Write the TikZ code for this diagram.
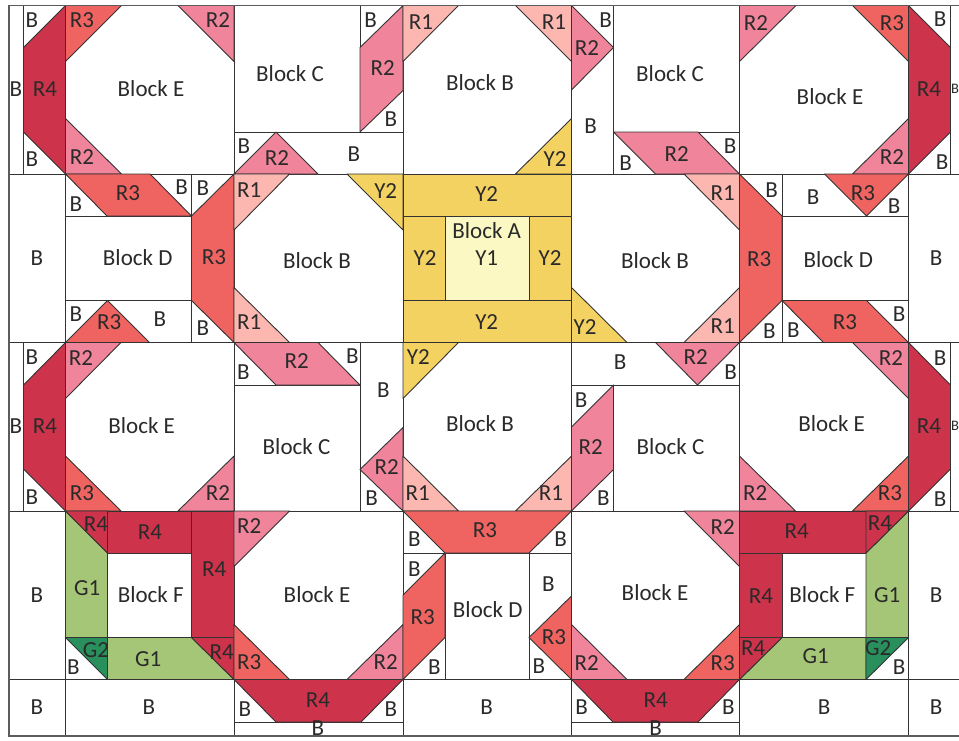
\documentclass[tikz,border=0pt]{standalone}
\usepackage{fontspec}
\setmainfont{Carlito}
\definecolor{cR4}{HTML}{CD334A}
\definecolor{cR3}{HTML}{EF6461}
\definecolor{cR2}{HTML}{F0849B}
\definecolor{cR1}{HTML}{FBB7B0}
\definecolor{cYa}{HTML}{F3D262}
\definecolor{cYb}{HTML}{FBF8C4}
\definecolor{cGa}{HTML}{A6C677}
\definecolor{cGb}{HTML}{288F5D}
\definecolor{ink}{HTML}{333333}
\definecolor{txt}{HTML}{2A2A2A}
\tikzset{
  patch/.style={draw=ink,line width=0.9pt,line join=round},
  rfour/.style={patch,fill=cR4},
  rthree/.style={patch,fill=cR3},
  rtwo/.style={patch,fill=cR2},
  rone/.style={patch,fill=cR1},
  yfive/.style={patch,fill=cYa},
  yone/.style={patch,fill=cYb},
  gone/.style={patch,fill=cGa},
  gtwo/.style={patch,fill=cGb},
  seam/.style={draw=ink,line width=0.9pt},
  frame/.style={draw=ink!80,line width=1.3pt},
  lab/.style={inner sep=0pt,text=txt,font=\fontsize{23}{23}\selectfont,anchor=center},
  labsmall/.style={lab,font=\fontsize{14.5}{15}\selectfont}
}
\begin{document}
\begin{tikzpicture}[x=1pt,y=-1pt]
\useasboundingbox (0,0) rectangle (959,740);
\clip (0,0) rectangle (959,740);
\fill[white] (0,0) rectangle (959,740);
% seams
\foreach \xa in {65.5,234,403,571.5,739.5,908.5} \draw[seam] (\xa,5.5) -- (\xa,736);
\foreach \ya in {174,342.5,511,679.5} \draw[seam] (9,\ya) -- (959,\ya);
\foreach \xa/\ya/\xb/\yb in {
 23.5/5.5/23.5/174, 950.5/5.5/950.5/174, 23.5/342.5/23.5/511, 950.5/342.5/950.5/511,
 360/5.5/360/132, 234/132/403/132, 613.5/5.5/613.5/174, 613.5/132/739.5/132,
 65.5/216/191.5/216, 65.5/300.5/191.5/300.5, 191.5/174/191.5/342.5,
 782/174/782/342.5, 782/216/908.5/216, 782/300.5/908.5/300.5,
 234/385/360/385, 360/342.5/360/511, 571.5/385/739.5/385, 613.5/385/613.5/511,
 403/553/571.5/553, 445/553/445/679.5, 529/553/529/679.5,
 234/722/403/722, 571.5/722/739.5/722}
  \draw[seam] (\xa,\ya) -- (\xb,\yb);
% row 1
\draw[rfour] (65.5,5.5)--(65.5,174)--(23.5,132)--(23.5,47.5)--cycle;
\draw[rthree] (65.5,5.5)--(121.5,5.5)--(65.5,61.5)--cycle;
\draw[rtwo] (178,5.5)--(234,5.5)--(234,61.5)--cycle;
\draw[rtwo] (65.5,118.5)--(121.5,174)--(65.5,174)--cycle;
\draw[rtwo] (403,5.5)--(403,90.5)--(360,132)--(360,47.5)--cycle;
\draw[rtwo] (234,174)--(276,132)--(318,174)--cycle;
\draw[rone] (403,5.5)--(458.5,5.5)--(403,61.5)--cycle;
\draw[rone] (515.5,5.5)--(571.5,5.5)--(571.5,61.5)--cycle;
\draw[yfive] (515.5,174)--(571.5,174)--(571.5,118.5)--cycle;
\draw[rtwo] (571.5,5.5)--(613.5,47.5)--(571.5,90)--cycle;
\draw[rtwo] (613.5,132)--(698,132)--(739.5,174)--(655.5,174)--cycle;
\draw[rtwo] (739.5,5.5)--(796,5.5)--(739.5,61.5)--cycle;
\draw[rthree] (852.5,5.5)--(908.5,5.5)--(908.5,61.5)--cycle;
\draw[rtwo] (852.5,174)--(908.5,174)--(908.5,118.5)--cycle;
\draw[rfour] (908.5,5.5)--(950.5,47.5)--(950.5,132)--(908.5,174)--cycle;
% row 2
\draw[rthree] (65.5,174)--(150,174)--(191.5,216)--(107,216)--cycle;
\draw[rthree] (234,174)--(234,342.5)--(191.5,300.5)--(191.5,216)--cycle;
\draw[rthree] (65.5,342.5)--(107.5,300.5)--(149.5,342.5)--cycle;
\draw[rone] (234,174)--(289.5,174)--(234,230)--cycle;
\draw[yfive] (347,174)--(403,174)--(403,230)--cycle;
\draw[rone] (234,287.5)--(289.5,342.5)--(234,342.5)--cycle;
\draw[yfive] (403,174) rectangle (571.5,216);
\draw[yfive] (403,216) rectangle (445,300.5);
\draw[yone] (445,216) rectangle (529,300.5);
\draw[yfive] (529,216) rectangle (571.5,300.5);
\draw[yfive] (403,300.5) rectangle (571.5,342.5);
\draw[yfive] (571.5,287.5)--(627,342.5)--(571.5,342.5)--cycle;
\draw[rone] (684,174)--(739.5,174)--(739.5,230)--cycle;
\draw[rone] (684,342.5)--(739.5,342.5)--(739.5,287.5)--cycle;
\draw[rthree] (739.5,174)--(782,216)--(782,300.5)--(739.5,342.5)--cycle;
\draw[rthree] (824.5,174)--(908.5,174)--(866.5,216)--cycle;
\draw[rthree] (782,300.5)--(866.5,300.5)--(908.5,342.5)--(823.5,342.5)--cycle;
% row 3
\draw[rfour] (65.5,342.5)--(65.5,511)--(23.5,469)--(23.5,385)--cycle;
\draw[rtwo] (65.5,342.5)--(121,342.5)--(65.5,398.5)--cycle;
\draw[rthree] (65.5,456)--(121,511)--(65.5,511)--cycle;
\draw[rtwo] (178,511)--(234,511)--(234,456)--cycle;
\draw[rtwo] (234,342.5)--(318,342.5)--(360,385)--(276,385)--cycle;
\draw[rtwo] (403,427.5)--(360,469.5)--(403,511)--cycle;
\draw[yfive] (403,342.5)--(458.5,342.5)--(403,398.5)--cycle;
\draw[rone] (403,456)--(458.5,511)--(403,511)--cycle;
\draw[rone] (515.5,511)--(571.5,511)--(571.5,456)--cycle;
\draw[rtwo] (613.5,385)--(613.5,469.5)--(571.5,511)--(571.5,427)--cycle;
\draw[rtwo] (655.5,342.5)--(739.5,342.5)--(697.5,385)--cycle;
\draw[rtwo] (852.5,342.5)--(908.5,342.5)--(908.5,398.5)--cycle;
\draw[rtwo] (739.5,456)--(795.5,511)--(739.5,511)--cycle;
\draw[rthree] (852.5,511)--(908.5,511)--(908.5,456)--cycle;
\draw[rfour] (908.5,342.5)--(950.5,385)--(950.5,469)--(908.5,511)--cycle;
% row 4
\draw[gone] (65.5,511)--(107.5,553)--(107.5,637.5)--(65.5,637.5)--cycle;
\draw[rfour] (65.5,511)--(107.5,511)--(107.5,553)--cycle;
\draw[rfour] (107.5,511) rectangle (191.5,553);
\draw[rfour] (191.5,511) rectangle (234,637.5);
\draw[gone] (107.5,637.5)--(191.5,637.5)--(234,679.5)--(107.5,679.5)--cycle;
\draw[rfour] (191.5,637.5)--(234,637.5)--(234,679.5)--cycle;
\draw[gtwo] (65.5,637.5)--(107.5,637.5)--(107.5,679.5)--cycle;
\draw[rtwo] (234,511)--(289.5,511)--(234,566.5)--cycle;
\draw[rthree] (234,624.5)--(289.5,679.5)--(234,679.5)--cycle;
\draw[rtwo] (347,679.5)--(403,679.5)--(403,624.5)--cycle;
\draw[rfour] (234,679.5)--(403,679.5)--(361,722)--(276,722)--cycle;
\draw[rthree] (403,511)--(571.5,511)--(529,553)--(445,553)--cycle;
\draw[rthree] (445,553)--(445,637.5)--(403,679.5)--(403,595)--cycle;
\draw[rthree] (571.5,596)--(529,637.5)--(571.5,679.5)--cycle;
\draw[rtwo] (684,511)--(739.5,511)--(739.5,566.5)--cycle;
\draw[rtwo] (571.5,624.5)--(627,679.5)--(571.5,679.5)--cycle;
\draw[rthree] (684,679.5)--(739.5,679.5)--(739.5,624.5)--cycle;
\draw[rfour] (571.5,679.5)--(739.5,679.5)--(698,722)--(613,722)--cycle;
\draw[rfour] (739.5,511) rectangle (866,553);
\draw[gone] (908.5,511)--(908.5,637.5)--(866,637.5)--(866,553)--cycle;
\draw[rfour] (866,511)--(908.5,511)--(866,553)--cycle;
\draw[rfour] (739.5,553) rectangle (782,637.5);
\draw[gone] (782,637.5)--(866,637.5)--(866,679.5)--(739.5,679.5)--cycle;
\draw[rfour] (739.5,637.5)--(782,637.5)--(739.5,679.5)--cycle;
\draw[gtwo] (866,637.5)--(908.5,637.5)--(866,679.5)--cycle;
% frame
\draw[frame] (959,5.5) -- (9,5.5) -- (9,736) -- (959,736);
% labels
\foreach[count=\i] \xa/\ya/\tx in {
 32/20/B,16/89/B,45/89/R4,32/159/B,82/20/R3,218/20/R2,151/89/Block E,82/157/R2,
 370.7/20/B,382.7/68/R2,391/119/B,290/74/Block C,244/146/B,277/158/R2,354/154/B,
 421/22/R1,554/22/R1,480/83/Block B,555/159/Y2,605.7/20/B,587/48/R2,590.7/126/B,
 625.7/162.7/B,676.7/154/R2,730/145.7/B,670/74/Block C,
 756/22.7/R2,892/22.7/R3,830/97/Block E,892/157/R2,940/19/B,929/89/R4,942/162/B,
 37/258/B,76/204/B,128/192.7/R3,181.7/187/B,203/188/B,214/256.7/R3,203/328/B,137.7/258/Block D,
 76/314/B,109.3/322.3/R3,160/319/B,249.3/190/R1,385.7/190.7/Y2,317/261/Block B,249.3/321.7/R1,
 486.7/194/Y2,486.7/230.7/Block A,486.7/258/Y1,425/258/Y2,550/258/Y2,486.7/321.7/Y2,
 655/261/Block B,722.7/192.7/R1,585/326.7/Y2,722.7/326/R1,759.3/259/R3,771.7/190/B,769.3/331/B,
 813/196.7/B,863/193/R3,894/206/B,838.3/260/Block D,793.3/330/B,845/321.7/R3,899/314/B,936/258/B,
 32/356.7/B,16/426/B,45/426/R4,32/497/B,81/358/R2,141.7/425.7/Block E,82/493/R3,218/493/R2,
 243.3/372.3/B,296.7/360.7/R2,352.3/356/B,296.5/446.7/Block C,383.3/390/B,386.7/467/R2,371.7/498.5/B,
 418.3/356.7/Y2,480/424/Block B,417.7/493/R1,551/493/R1,620/361.7/B,581/400/B,590.7/446.7/R2,603.3/498/B,
 695.7/357.3/R2,730.7/372.3/B,670.5/446.7/Block C,891/358.3/R2,831.7/424/Block E,755.3/493/R2,890/493/R3,
 940/357.7/B,929/426/R4,940/499/B,
 37/595/B,96/524/R4,150/532.3/R4,214.3/569/R4,87.3/587.7/G1,150.7/595/Block F,96/650/G2,73.3/667.3/B,148.3/659/G1,221.7/651.7/R4,
 249.3/525.7/R2,317/595/Block E,249.3/662.3/R3,385.7/662.3/R2,318/700/R4,245/709.3/B,391/709.3/B,318/728/B,
 485/530/R3,414.3/539.3/B,560.7/539/B,414.3/569/B,422.7/616.7/R3,434.3/666.7/B,487.7/609.3/Block D,548.3/584.3/B,554/636.7/R3,539/665.7/B,
 722.7/526.7/R2,655/593/Block E,586.7/663.3/R2,722.7/663.3/R3,655.7/700/R4,581.7/707.3/B,728.3/707.3/B,655.7/728/B,
 37/707/B,149/707/B,486.7/707.3/B,824/707/B,936/707/B,
 796.7/530.7/R4,880/523.3/R4,761/595.7/R4,822.3/595/Block F,887.3/595/G1,753.3/648.3/R4,815.7/655.7/G1,878.3/648.3/G2,899/666.7/B,936/595/B}
  \node[lab] (t\i) at (\xa,\ya) {\tx};
\node[labsmall] (edgeA) at (955,89) {B};
\node[labsmall] (edgeB) at (955,426) {B};
\end{tikzpicture}
\end{document}
